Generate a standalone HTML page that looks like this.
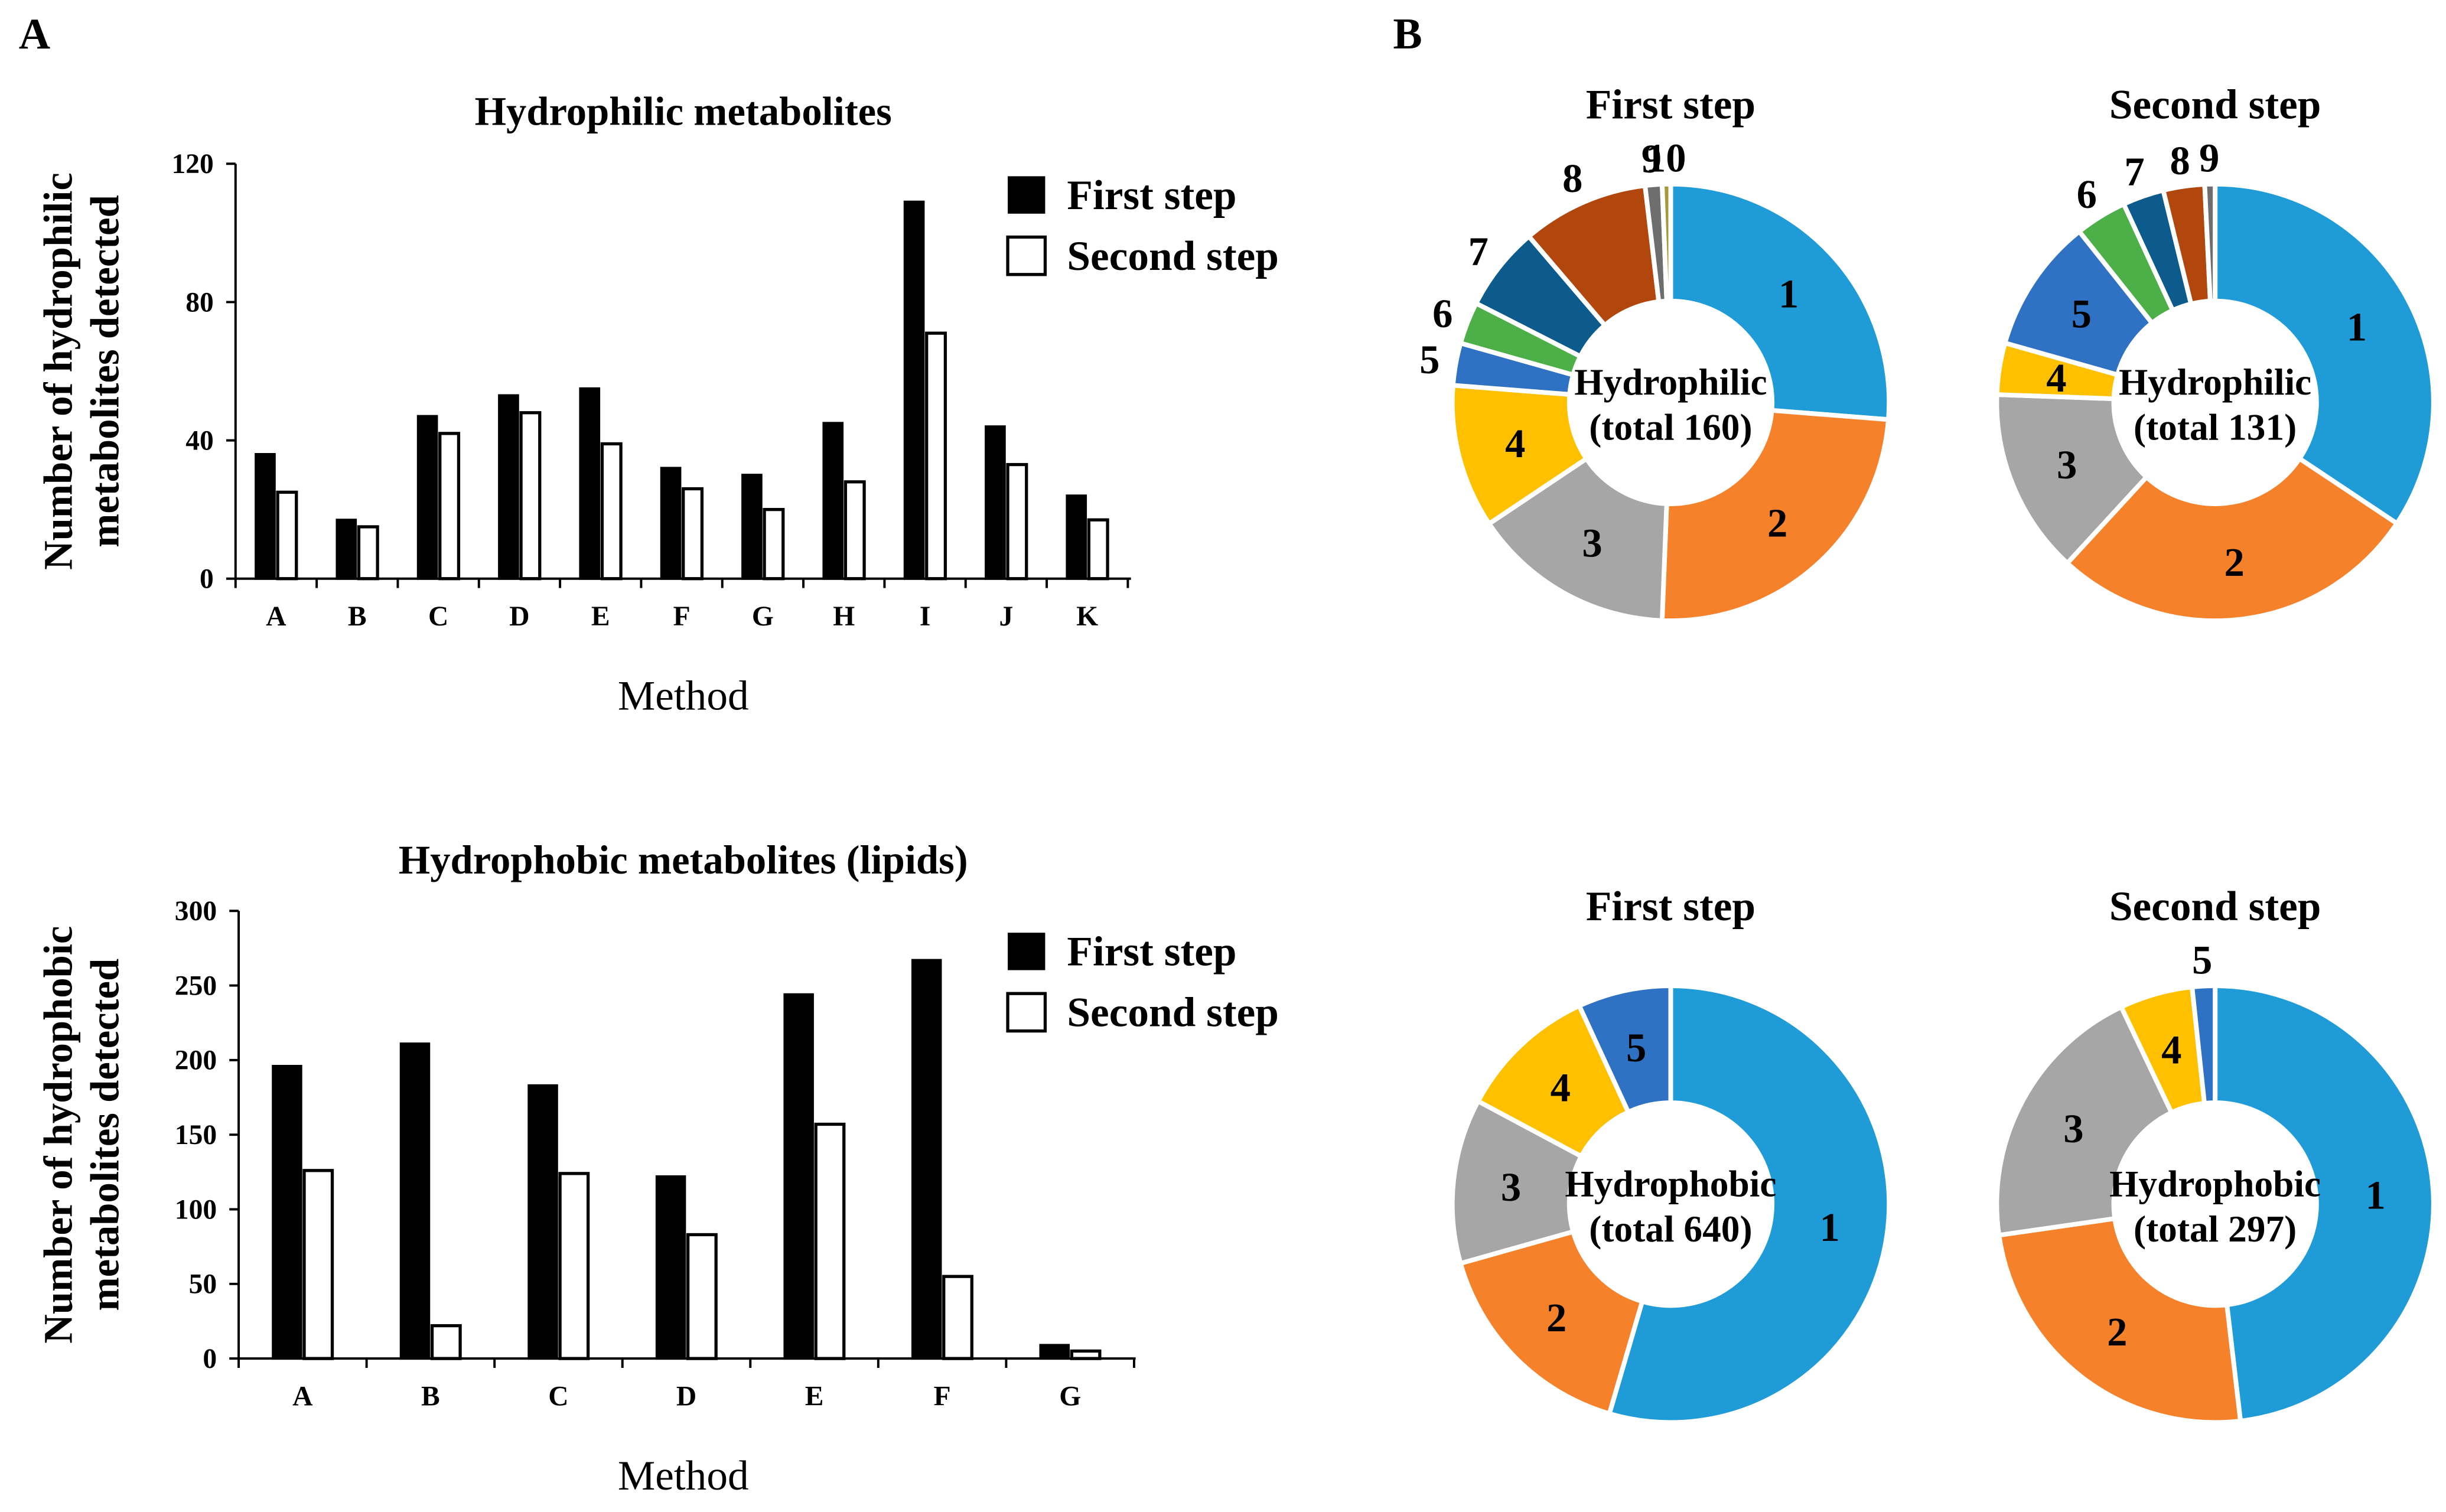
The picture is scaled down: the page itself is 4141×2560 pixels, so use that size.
<!DOCTYPE html>
<html><head><meta charset="utf-8"><style>
html,body{margin:0;padding:0;background:#fff}
svg{display:block}
text{font-family:"Liberation Serif",serif;fill:#000}
</style></head><body>
<svg id="fig" width="4141" height="2560" viewBox="0 0 1568 969.4" preserveAspectRatio="none" xmlns="http://www.w3.org/2000/svg">
<rect width="1568" height="970" fill="#fff"/>
<text x="12" y="31" font-size="28" font-weight="bold">A</text>
<text x="893" y="31" font-size="28" font-weight="bold">B</text>
<g id="bars"></g>
<g id="pies"></g>
</svg>
<script>
const NS="http://www.w3.org/2000/svg";
function mk(parent,tag,attrs,txt){const e=document.createElementNS(NS,tag);for(const k in attrs)e.setAttribute(k,attrs[k]);if(txt!==undefined)e.textContent=txt;parent.appendChild(e);return e;}

// ---- Bar chart data ----
const hydroCats=["A","B","C","D","E","F","G","H","I","J","K"];
const hydroFirst=[36,17,47,53,55,32,30,45,109,44,24];
const hydroSecond=[25,15,42,48,39,26,20,28,71,33,17];
const hydroTicks=[0,40,80,120];
const lipidCats=["A","B","C","D","E","F","G"];
const lipidFirst=[196,211,183,122,244,267,9];
const lipidSecond=[126,22,124,83,157,55,5];
const lipidTicks=[0,50,100,150,200,250,300];

// ---- Pie data ----
const pie1Values=[42,39,24,17,5,5,10,15,2,1];
const pie2Values=[45,36,18,5,13,5,4,4,1];
const pie3Values=[349,103,78,66,44];
const pie4Values=[143,73,60,16,5];
const pieColors=["#1f9cd8","#f5812b","#a6a6a6","#ffc000","#2f72c4","#4caf47","#0c5b8c","#b1470c","#6e6e6e","#a39a3c"];

function barChart(o){
  const g=mk(document.getElementById('bars'),'g',{});
  
  
  const ymax=o.ticks[o.ticks.length-1];
  const y=v=>o.y0-(v/ymax)*(o.y0-o.y1);
  const x=i=>o.xc0+i*o.step;
  let t=mk(g,'text',{x:o.titleX,y:o.titleY,'font-size':26,'font-weight':'bold','text-anchor':'middle'},o.title);
  
  let a=mk(g,'line',{x1:o.x0,y1:o.y1,x2:o.x0,y2:o.y0,stroke:'#000','stroke-width':1.5});
  
  a=mk(g,'line',{x1:o.x0,y1:o.y0,x2:o.xEnd,y2:o.y0,stroke:'#000','stroke-width':1.5});
  
  o.ticks.forEach(v=>{
    mk(g,'line',{x1:o.x0-6,y1:y(v),x2:o.x0,y2:y(v),stroke:'#000','stroke-width':1.5});
    const tl=mk(g,'text',{x:o.x0-14,y:y(v)+6,'font-size':18,'font-weight':'bold','text-anchor':'end'},v);
    
  });
  for(let i=0;i<=o.cats.length;i++){const xx=o.x0+i*o.step;mk(g,'line',{x1:xx,y1:o.y0,x2:xx,y2:o.y0+6,stroke:'#000','stroke-width':1.5});}
  o.cats.forEach((c,i)=>{
    const tl=mk(g,'text',{x:x(i),y:o.y0+30,'font-size':18,'font-weight':'bold','text-anchor':'middle'},c);
    
    const b1=mk(g,'rect',{x:x(i)-o.bw-1,y:y(o.first[i]),width:o.bw,height:o.y0-y(o.first[i]),fill:'#000',stroke:'#000','stroke-width':1.5});
    
    const b2=mk(g,'rect',{x:x(i)+1,y:y(o.second[i]),width:o.bw,height:o.y0-y(o.second[i]),fill:'#fff',stroke:'#000','stroke-width':2});
    
  });
  t=mk(g,'text',{x:438,y:o.y0+84,'font-size':27,'text-anchor':'middle'},'Method');
  
  const cy=(o.y0+o.y1)/2;
  t=mk(g,'text',{transform:`translate(${o.yTitleX},${cy}) rotate(-90)`,'font-size':26,'font-weight':'bold','text-anchor':'middle'});
  
  mk(t,'tspan',{x:0,y:0},o.yTitle[0]);mk(t,'tspan',{x:0,y:30},o.yTitle[1]);
  const lg=mk(g,'g',{});
  let e=mk(lg,'rect',{x:646,y:o.legY,width:24,height:24,fill:'#000'});
  
  mk(lg,'text',{x:684,y:o.legY+21,'font-size':27,'font-weight':'bold'},'First step');
  e=mk(lg,'rect',{x:646,y:o.legY+39,width:24,height:24,fill:'#fff',stroke:'#000','stroke-width':2});
  
  mk(lg,'text',{x:684,y:o.legY+60,'font-size':27,'font-weight':'bold'},'Second step');
}
barChart({name:'hydrophilic-bar-chart',cats:hydroCats,first:hydroFirst,second:hydroSecond,ticks:hydroTicks,x0:151,xEnd:725,xc0:177,step:52,bw:12,y0:371,y1:105,title:'Hydrophilic metabolites',titleX:438,titleY:80,yTitle:['Number of hydrophilic','metabolites detected'],yTitleX:46,legY:113});
barChart({name:'hydrophobic-bar-chart',cats:lipidCats,first:lipidFirst,second:lipidSecond,ticks:lipidTicks,x0:153,xEnd:728,xc0:194,step:82,bw:18,y0:871,y1:584,title:'Hydrophobic metabolites (lipids)',titleX:438,titleY:560,yTitle:['Number of hydrophobic','metabolites detected'],yTitleX:46,legY:598});

function pie(o){
  const g=mk(document.getElementById('pies'),'g',{});
  
  const tot=o.values.reduce((a,b)=>a+b,0);
  let t=mk(g,'text',{x:o.cx,y:o.cy-182,'font-size':27,'font-weight':'bold','text-anchor':'middle'},o.title);
  
  let a0=0;const R=140,r=65;
  const pt=(ang,rad)=>[o.cx+rad*Math.sin(ang),o.cy-rad*Math.cos(ang)];
  o.values.forEach((v,i)=>{
    const a1=a0+v/tot*2*Math.PI;
    const [x1,y1]=pt(a0,R),[x2,y2]=pt(a1,R),[x3,y3]=pt(a1,r),[x4,y4]=pt(a0,r);
    const large=(a1-a0)>Math.PI?1:0;
    const p=mk(g,'path',{d:`M${x1},${y1}A${R},${R} 0 ${large} 1 ${x2},${y2}L${x3},${y3}A${r},${r} 0 ${large} 0 ${x4},${y4}Z`,fill:pieColors[i],stroke:'#fff','stroke-width':3});
    
    const outside=o.outside.includes(i+1);
    const mid=(a0+a1)/2;const [lx,ly]=pt(mid,outside?157:103);
    const l=mk(g,'text',{x:lx,y:ly+9,'font-size':26,'font-weight':'bold','text-anchor':'middle'},i+1);
    
    a0=a1;
  });
  t=mk(g,'text',{x:o.cx,y:o.cy-5,'font-size':24,'font-weight':'bold','text-anchor':'middle'},o.center);
  
  t=mk(g,'text',{x:o.cx,y:o.cy+24,'font-size':24,'font-weight':'bold','text-anchor':'middle'},'(total '+tot+')');
  
}
pie({name:'pie-hydrophilic-first',cx:1071,cy:258,values:pie1Values,title:'First step',center:'Hydrophilic',outside:[5,6,7,8,9,10]});
pie({name:'pie-hydrophilic-second',cx:1420,cy:258,values:pie2Values,title:'Second step',center:'Hydrophilic',outside:[6,7,8,9]});
pie({name:'pie-hydrophobic-first',cx:1071,cy:772,values:pie3Values,title:'First step',center:'Hydrophobic',outside:[]});
pie({name:'pie-hydrophobic-second',cx:1420,cy:772,values:pie4Values,title:'Second step',center:'Hydrophobic',outside:[5]});
</script>
</body></html>
